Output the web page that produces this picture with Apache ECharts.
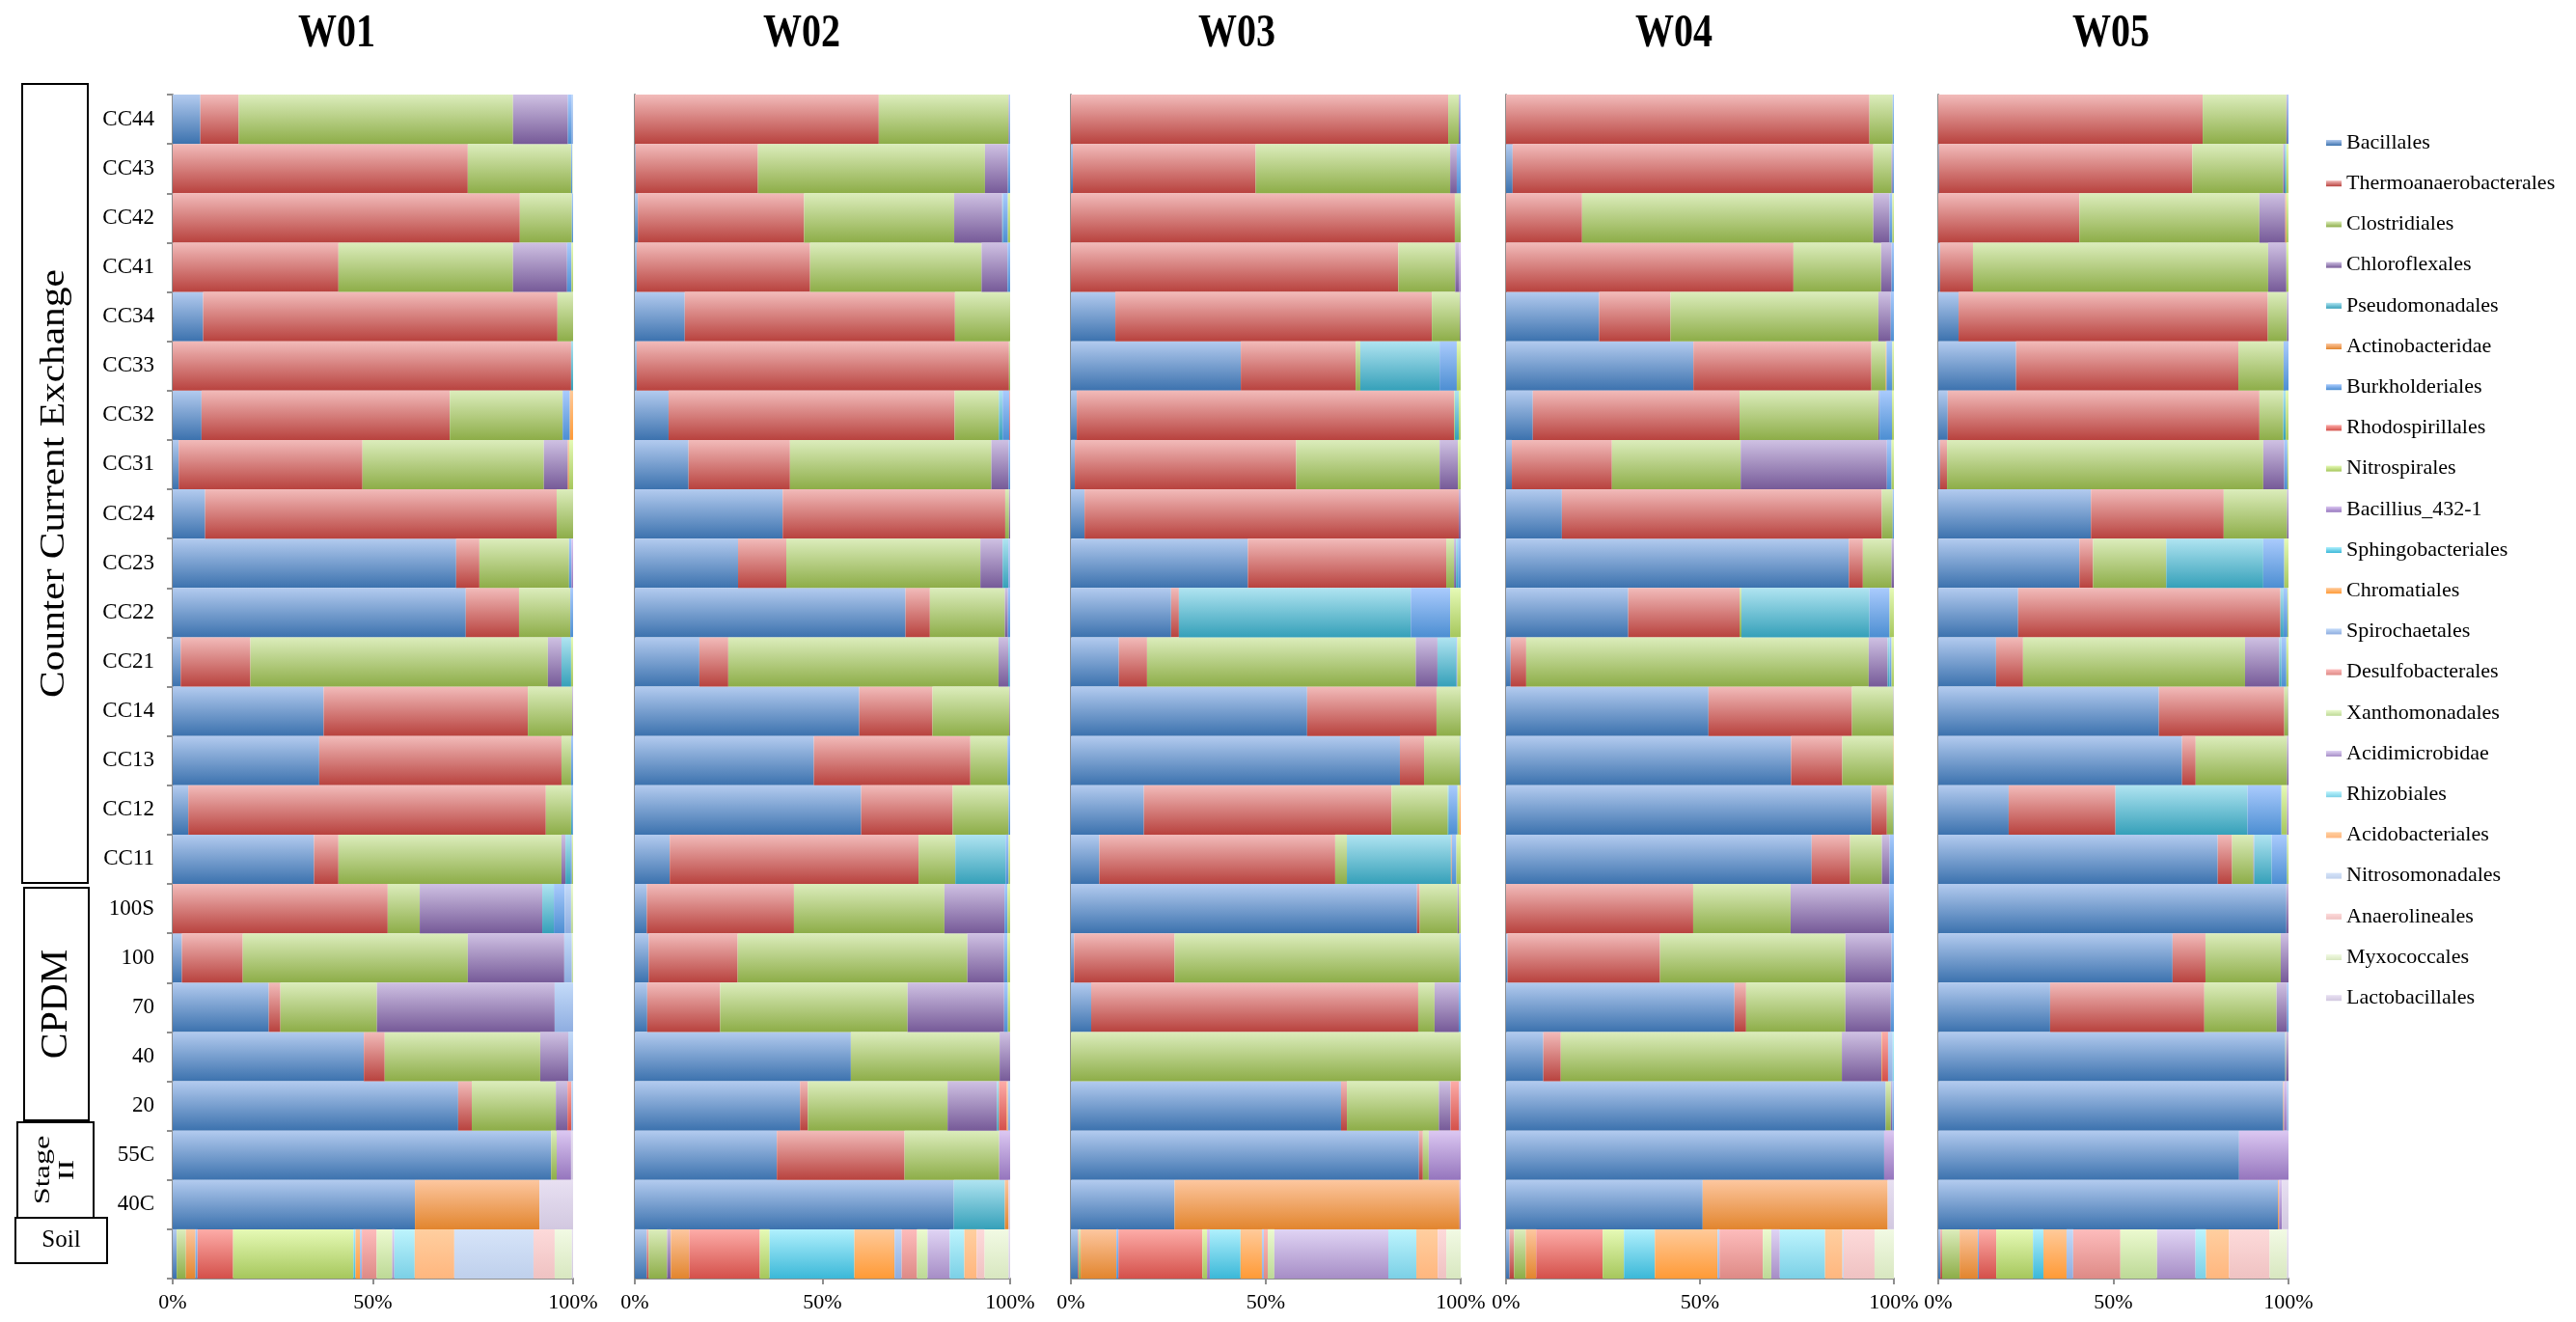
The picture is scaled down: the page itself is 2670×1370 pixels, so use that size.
<!DOCTYPE html>
<html>
<head>
<meta charset="utf-8">
<script src="https://cdn.jsdelivr.net/npm/echarts@6/dist/echarts.min.js"></script>
<style>
  html, body { margin: 0; padding: 0; background: #fff; }
  #chart { width: 2670px; height: 1370px; }
</style>
</head>
<body>
<div id="chart"></div>
<script>
// Sample rows, top to bottom (last row is the soil sample)
const samples = ['CC44', 'CC43', 'CC42', 'CC41', 'CC34', 'CC33', 'CC32', 'CC31',
  'CC24', 'CC23', 'CC22', 'CC21', 'CC14', 'CC13', 'CC12', 'CC11',
  '100S', '100', '70', '40', '20', '55C', '40C', ''];

// Bacterial orders, in stacking order
const orders = ['Bacillales', 'Thermoanaerobacterales', 'Clostridiales', 'Chloroflexales',
  'Pseudomonadales', 'Actinobacteridae', 'Burkholderiales', 'Rhodospirillales',
  'Nitrospirales', 'Bacillius_432-1', 'Sphingobacteriales', 'Chromatiales',
  'Spirochaetales', 'Desulfobacterales', 'Xanthomonadales', 'Acidimicrobidae',
  'Rhizobiales', 'Acidobacteriales', 'Nitrosomonadales', 'Anaerolineales',
  'Myxococcales', 'Lactobacillales'];

const wells = ['W01', 'W02', 'W03', 'W04', 'W05'];
const percentTicks = [0, 50, 100];

// Relative abundance (%) per sample, one value per order (trailing zeros omitted)
const w01 = [
  [6.9, 9.6, 68.5, 13.7, 0, 0, 1.0, 0, 0, 0, 0, 0, 0.3],
  [0, 73.7, 25.8, 0, 0, 0, 0.3, 0, 0, 0, 0, 0, 0, 0, 0, 0, 0, 0, 0, 0, 0.2],
  [0, 86.7, 13.0, 0, 0, 0, 0.3],
  [0, 41.4, 43.6, 13.5, 0, 0, 1.1, 0, 0.4],
  [7.6, 88.5, 3.9],
  [0, 99.5, 0, 0, 0.5],
  [7.2, 62.0, 28.2, 0, 0, 0, 1.8, 0, 0, 0, 0, 0.8],
  [1.5, 45.9, 45.3, 6.0, 0, 0.3, 0, 0, 1.0],
  [8.1, 87.8, 4.1],
  [70.8, 5.8, 22.4, 0, 0, 0, 0.6, 0, 0, 0.4],
  [73.2, 13.3, 12.8, 0, 0, 0, 0.7],
  [2.0, 17.4, 74.3, 3.4, 2.4, 0, 0, 0, 0.5],
  [37.7, 51.0, 11.1, 0.2],
  [36.6, 60.5, 2.4, 0, 0, 0, 0.5],
  [3.9, 89.3, 6.3, 0, 0.3, 0, 0.2],
  [35.3, 6.1, 55.7, 1.0, 1.2, 0, 0.4, 0, 0.3],
  [0, 53.7, 8.0, 30.6, 2.9, 0, 2.7, 0, 0, 0, 0, 0, 1.6, 0, 0.5],
  [2.3, 15.2, 56.2, 24.1, 0, 0, 0, 0, 0, 0, 0, 0, 1.9, 0, 0.3],
  [24.0, 2.9, 24.1, 44.4, 0, 0, 0, 0, 0, 0, 0, 0, 4.6],
  [47.7, 5.2, 38.8, 7.0, 0, 0, 0, 0, 0, 0, 0, 0, 1.2],
  [71.3, 3.4, 21.0, 2.9, 0, 0, 0, 1.0, 0, 0, 0, 0, 0.4],
  [94.5, 0, 1.4, 0, 0, 0, 0, 0, 0, 3.6, 0, 0, 0, 0, 0, 0, 0, 0, 0, 0, 0, 0.5],
  [60.5, 0, 0, 0, 0, 31.1, 0, 0, 0, 0, 0, 0, 0, 0, 0, 0, 0, 0, 0, 0, 0, 8.4],
  [1.0, 0, 2.3, 0, 0, 2.4, 0.5, 8.9, 30.1, 0, 0.5, 1.1, 0.5, 3.7, 3.9, 0.5, 5.1, 9.9, 19.8, 5.3, 4.3, 0.3]
];

const w02 = [
  [0, 65.0, 34.6, 0.2, 0, 0, 0.2],
  [0.2, 32.6, 60.5, 6.1, 0, 0, 0.6],
  [0.8, 44.3, 40.0, 12.8, 0.2, 0, 1.3, 0, 0.6],
  [0.5, 46.1, 45.6, 6.9, 0, 0, 0.7],
  [13.3, 72.0, 14.7],
  [0.5, 99.2, 0.3],
  [9.0, 76.3, 11.8, 0, 1.0, 0, 1.8, 0.2],
  [14.3, 27.0, 53.6, 4.6, 0, 0, 0.4],
  [39.4, 59.3, 1.0, 0.3],
  [27.4, 12.8, 51.5, 5.9, 1.5, 0, 0, 0, 0, 0, 0, 0, 0.5],
  [72.2, 6.5, 20.0, 0.8, 0, 0, 0.6],
  [17.2, 7.7, 72.0, 2.6, 0.3, 0, 0.2],
  [59.8, 19.5, 20.5, 0.2],
  [47.7, 41.7, 9.9, 0, 0, 0, 0.7],
  [60.3, 24.4, 14.9, 0, 0, 0, 0.4],
  [9.3, 66.3, 9.8, 0, 13.4, 0, 0.8, 0, 0.4],
  [3.2, 39.2, 40.1, 16.0, 0, 0, 0.8, 0, 0.7],
  [3.7, 23.7, 61.2, 9.8, 0, 0, 0.9, 0, 0.7],
  [3.3, 19.4, 49.9, 25.7, 0, 0, 1.0, 0, 0.6],
  [57.5, 0, 39.6, 2.8],
  [44.1, 2.1, 37.3, 13.2, 0.5, 0, 0, 2.1, 0, 0, 0, 0.3, 0.6],
  [37.8, 34.0, 25.2, 0, 0, 0, 0, 0, 0, 2.9],
  [85.0, 0, 0, 0, 13.6, 1.0, 0, 0, 0, 0, 0, 0, 0, 0, 0, 0, 0, 0, 0, 0, 0, 0.4],
  [3.2, 0.5, 4.9, 1.0, 0, 4.9, 0, 18.8, 2.6, 0, 22.6, 10.7, 1.9, 4.1, 2.8, 5.9, 3.9, 3.3, 0, 2.1, 6.4, 0.4]
];

const w03 = [
  [0, 96.8, 2.7, 0.3, 0, 0, 0.2],
  [0.5, 46.9, 49.9, 1.7, 0, 0, 1.0],
  [0, 98.5, 1.5],
  [0, 84.0, 14.6, 1.0, 0, 0, 0, 0, 0, 0.4],
  [11.4, 81.2, 7.2, 0.2],
  [43.5, 29.4, 1.2, 0, 20.3, 0, 4.4, 0, 1.0],
  [1.5, 96.8, 0.2, 0, 1.0, 0, 0, 0, 0.5],
  [1.0, 56.8, 36.8, 4.7, 0, 0, 0, 0, 0.7],
  [3.5, 96.0, 0, 0.5],
  [45.4, 50.9, 2.0, 0.5, 0.5, 0, 0.7],
  [25.7, 2.0, 0, 0, 59.5, 0, 10.1, 0, 2.7],
  [12.6, 7.4, 70.6, 5.7, 4.9, 0, 0.3, 0, 0.9],
  [60.6, 33.2, 6.2],
  [84.4, 6.2, 9.2, 0, 0, 0, 0.2],
  [18.7, 63.5, 14.4, 0, 0.3, 0, 2.2, 0, 0.5, 0, 0, 0.3],
  [7.3, 60.5, 3.0, 0, 26.7, 0.2, 1.2, 0, 1.1],
  [88.8, 0.7, 9.7, 0.3, 0, 0, 0, 0, 0.5],
  [0.8, 25.8, 73.1, 0, 0, 0, 0.3],
  [5.2, 83.9, 4.2, 6.2, 0, 0, 0.5],
  [0, 0, 100],
  [69.3, 1.5, 23.6, 3.0, 0, 0, 0, 2.2, 0, 0, 0, 0, 0, 0, 0, 0.4],
  [89.3, 1.0, 1.5, 0, 0, 0, 0, 0, 0, 8.2],
  [26.6, 0, 0, 0, 0, 73.1, 0, 0, 0, 0.3],
  [1.8, 0.2, 0.5, 0, 0, 9.2, 0.5, 21.6, 1.2, 0.7, 7.9, 5.5, 0.5, 1.0, 1.7, 29.3, 7.2, 5.5, 0, 2.2, 3.7]
];

const w04 = [
  [0, 93.7, 6.0, 0, 0, 0, 0.3],
  [1.7, 93.0, 4.7, 0.3, 0, 0, 0.3],
  [0, 19.6, 75.1, 4.2, 0, 0, 0.7, 0, 0.4],
  [0, 74.1, 22.6, 2.7, 0, 0, 0.6],
  [24.0, 18.4, 53.6, 3.2, 0, 0, 0.8],
  [48.3, 45.9, 3.7, 0, 0, 0.2, 1.5, 0, 0.4],
  [6.9, 53.3, 35.8, 0.3, 0, 0, 3.2, 0, 0.5],
  [1.5, 25.8, 33.2, 37.7, 0, 0, 1.2, 0, 0.6],
  [14.4, 82.5, 2.8, 0, 0, 0, 0.3],
  [88.4, 3.6, 7.4, 0.6],
  [31.5, 28.7, 0.5, 0, 33.0, 0, 5.2, 0, 1.1],
  [1.2, 4.0, 88.3, 4.9, 0.5, 0, 0.5, 0, 0.6],
  [52.2, 37.0, 10.7, 0.1],
  [73.5, 13.2, 13.2, 0, 0, 0.1],
  [94.2, 4.0, 1.7, 0, 0, 0, 0.1],
  [78.8, 9.9, 8.2, 2.0, 0, 0, 1.1],
  [0, 48.2, 25.1, 25.4, 0, 0, 1.2],
  [0.4, 39.3, 47.8, 11.9, 0, 0, 0.6],
  [58.9, 3.0, 25.6, 11.7, 0, 0, 0.8],
  [9.6, 4.5, 72.4, 10.2, 0, 0.2, 0, 1.5, 0, 0, 0, 0, 1.2, 0, 0, 0, 0.3],
  [97.9, 0, 1.3, 0.4, 0, 0, 0.4],
  [97.4, 0, 0, 0, 0, 0, 0, 0, 0, 2.5],
  [50.7, 0, 0, 0, 0, 47.7, 0, 0, 0, 0, 0, 0, 0, 0, 0, 0, 0, 0, 0, 0, 0, 1.6],
  [0.9, 1.2, 3.0, 0, 0, 2.7, 0, 17.2, 5.5, 0, 8.0, 16.2, 0.5, 11.2, 2.2, 2.2, 11.7, 4.5, 0.3, 8.0, 5.0]
];

const w05 = [
  [0, 75.5, 23.9, 0.3, 0, 0, 0.3],
  [0.2, 72.5, 26.0, 0.4, 0.5, 0, 0, 0, 0.6],
  [0, 40.3, 51.4, 7.4, 0, 0.3, 0, 0, 0.6],
  [0.5, 9.4, 84.2, 5.2, 0, 0, 0, 0, 0.6],
  [5.8, 88.3, 5.5, 0.4],
  [22.2, 63.4, 12.9, 0, 0, 0, 1.4],
  [2.7, 89.0, 6.8, 0, 0.7, 0, 0, 0, 0.8],
  [0.5, 2.0, 90.3, 6.0, 0, 0, 0.9, 0, 0.3],
  [43.6, 37.9, 18.1, 0.4],
  [40.3, 3.9, 20.9, 0, 27.7, 0, 6.0, 0, 1.2],
  [22.8, 74.9, 0, 0, 0.9, 0, 1.1, 0, 0.3],
  [16.5, 7.7, 63.4, 9.8, 0.6, 0, 1.4, 0, 0.6],
  [63.0, 35.8, 1.1, 0.1],
  [69.6, 3.9, 26.1, 0.4],
  [20.1, 30.5, 0, 0, 37.7, 0, 9.7, 0, 1.6, 0.4],
  [79.8, 4.1, 6.1, 0.2, 5.0, 0, 4.4, 0, 0.4],
  [99.4, 0, 0, 0.6],
  [66.9, 9.4, 21.5, 2.2],
  [31.9, 44.0, 20.6, 3.0, 0, 0, 0.4],
  [99.1, 0, 0.2, 0.7],
  [98.5, 0, 0, 0, 0, 0.2, 0, 0, 0, 0.9, 0, 0, 0.4],
  [85.9, 0, 0, 0, 0, 0, 0, 0, 0, 14.1],
  [97.2, 0, 0, 0, 0, 0.3, 0, 0, 0, 0.8, 0, 0, 0, 0, 0, 0, 0, 0, 0, 0, 0, 1.9],
  [0.6, 0.5, 5.0, 0, 0, 5.2, 0.3, 5.0, 10.5, 0, 3.0, 6.6, 1.9, 13.5, 10.5, 11.0, 3.0, 6.6, 0, 11.6, 5.0, 0.4]
];

const panelData = [w01, w02, w03, w04, w05];

// Light-to-dark fill for each order (top edge, bottom edge of a bar)
const shades = [
  ['#B3CBEF', '#3C72AE'], ['#F2BBBA', '#B8423E'], ['#DCEDBC', '#8DAD48'],
  ['#CFC1E3', '#765A98'], ['#B0E4F1', '#35A0B9'], ['#FDC7A0', '#E2852E'],
  ['#AACBFD', '#4C8ED2'], ['#FDACA8', '#D4504A'], ['#E6FAB6', '#A6C75C'],
  ['#DCC8F2', '#9575BD'], ['#B0F0FD', '#3BB8D8'], ['#FFCA9A', '#FF9A36'],
  ['#C4DBF9', '#8EADE0'], ['#FDBCBC', '#DE8A86'], ['#ECFAD0', '#BDD996'],
  ['#E0D4F4', '#A68DC6'], ['#BDF4FD', '#7BD0E6'], ['#FFCFA0', '#FFB67E'],
  ['#D6E4F9', '#BFD0EC'], ['#FDDADA', '#EFC2C2'], ['#F2FAE4', '#D8E7C0'],
  ['#E8E0F2', '#D2C8E0']
];

// Plot areas of the five panels (px)
const plotBoxes = [
  { left: 179, width: 415 },
  { left: 658, width: 389 },
  { left: 1110, width: 404 },
  { left: 1561, width: 402 },
  { left: 2009, width: 363 }
];
const plotTop = 98;
const plotHeight = 1227;
const titleCenters = [349, 831, 1282, 1735, 2188];

const serif = "'Liberation Serif', 'Times New Roman', serif";
const axisGrey = '#8E8E8E';

function shade(k) {
  return new echarts.graphic.LinearGradient(0, 0, 0, 1, [
    { offset: 0, color: shades[k][0] },
    { offset: 1, color: shades[k][1] }
  ]);
}

const grids = [], xAxes = [], yAxes = [], series = [];

plotBoxes.forEach((box, p) => {
  grids.push({
    left: box.left, top: plotTop, width: box.width, height: plotHeight,
    containLabel: false, outerBoundsMode: 'none'
  });
  xAxes.push({
    type: 'value', gridIndex: p, min: percentTicks[0], max: percentTicks[2],
    interval: percentTicks[1] - percentTicks[0],
    axisLine: { show: true, lineStyle: { color: axisGrey, width: 2 } },
    axisTick: { show: true, length: 6, lineStyle: { color: axisGrey, width: 2 } },
    splitLine: { show: false },
    axisLabel: {
      formatter: '{value}%', color: '#000', fontFamily: serif, fontSize: 22, margin: 14
    }
  });
  yAxes.push({
    type: 'category', gridIndex: p, data: samples, inverse: true,
    axisLine: { show: true, lineStyle: { color: axisGrey, width: 2 } },
    axisTick: { show: p === 0, length: 6, lineStyle: { color: axisGrey, width: 2 } },
    axisLabel: {
      show: p === 0, color: '#000', fontFamily: serif, fontSize: 23, margin: 19
    }
  });

  const rows = panelData[p];
  const totals = rows.map(r => r.reduce((a, b) => a + b, 0));
  orders.forEach((name, k) => {
    series.push({
      name, type: 'bar', stack: 'well' + p,
      xAxisIndex: p, yAxisIndex: p,
      barCategoryGap: '0%',
      itemStyle: { color: shade(k), borderWidth: 0 },
      emphasis: { disabled: true },
      data: rows.map((r, i) => ((r[k] || 0) / totals[i]) * 100)
    });
  });
});

// Panel titles and sample-group boxes on the left
const graphics = [];
wells.forEach((w, p) => {
  graphics.push({
    type: 'text', x: titleCenters[p], y: 36, scaleY: 1.2,
    style: {
      text: w, fontFamily: serif, fontSize: 40, fontWeight: 'bold',
      fill: '#000', align: 'center', verticalAlign: 'middle'
    }
  });
});

const groupBoxes = [
  { x: 23, y: 87, w: 68, h: 828, text: 'Counter Current Exchange', size: 36, stretch: 1.15, rotate: true },
  { x: 25, y: 920, w: 67, h: 241, text: 'CPDM', size: 40, stretch: 1.0, rotate: true },
  { x: 18, y: 1163, w: 79, h: 99, text: 'Stage\nII', size: 23, stretch: 1.4, rotate: true },
  { x: 16, y: 1262, w: 95, h: 47, text: 'Soil', size: 25, stretch: 1.0, rotate: false }
];
groupBoxes.forEach(b => {
  graphics.push({
    type: 'rect', shape: { x: b.x, y: b.y, width: b.w, height: b.h },
    style: { fill: '#fff', stroke: '#000', lineWidth: 2 }
  });
  graphics.push({
    type: 'text', x: b.x + b.w / 2, y: b.y + b.h / 2,
    rotation: b.rotate ? Math.PI / 2 : 0,
    scaleX: b.stretch,
    style: {
      text: b.text, fontFamily: serif, fontSize: b.size, fill: '#000',
      align: 'center', verticalAlign: 'middle', lineHeight: b.size * 1.05
    }
  });
});

const chart = echarts.init(document.getElementById('chart'), null, { renderer: 'canvas' });
chart.setOption({
  backgroundColor: '#fff',
  animation: false,
  grid: grids,
  xAxis: xAxes,
  yAxis: yAxes,
  legend: {
    data: orders, orient: 'vertical', left: 2406, top: 132,
    itemWidth: 16, itemHeight: 6, itemGap: 20.2, icon: 'rect',
    selectedMode: false,
    textStyle: { fontFamily: serif, fontSize: 22, color: '#000', lineHeight: 22 }
  },
  graphic: graphics,
  series
});
</script>
</body>
</html>
